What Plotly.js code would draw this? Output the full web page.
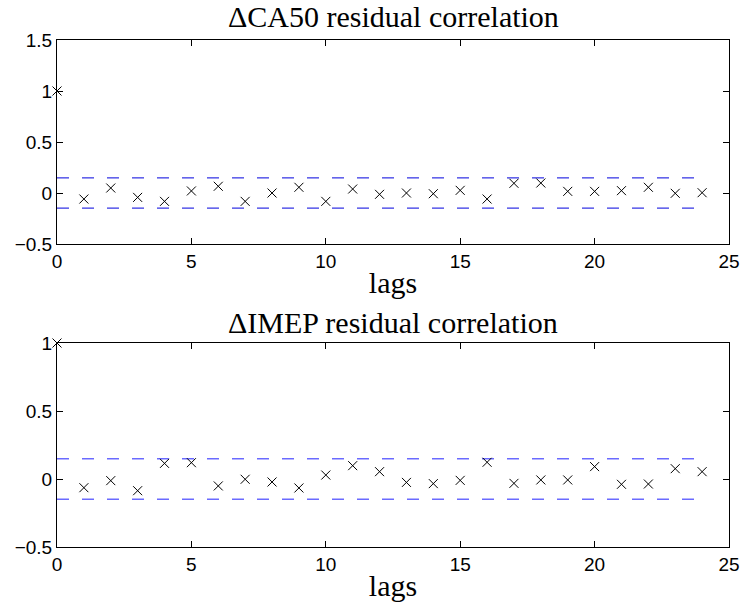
<!DOCTYPE html>
<html>
<head>
<meta charset="utf-8">
<script src="https://cdn.plot.ly/plotly-3.0.1.min.js"></script>
<style>html,body{margin:0;padding:0;background:#fff;}#chart{width:742px;height:610px;}</style>
</head>
<body>
<div id="chart"></div>
<script>
// Data
const lags = [0,1,2,3,4,5,6,7,8,9,10,11,12,13,14,15,16,17,18,19,20,21,22,23,24];
const ca50Corr = [1, -0.059, 0.049, -0.043, -0.082, 0.02, 0.066, -0.082, 0.0, 0.056, -0.082, 0.039, -0.013,
  0.0, -0.007, 0.026, -0.059, 0.095, 0.098, 0.016, 0.016, 0.023, 0.056, -0.003, 0.003];
const imepCorr = [1, -0.064, -0.012, -0.086, 0.115, 0.12, -0.051, -0.002, -0.022, -0.066, 0.029, 0.098, 0.054,
  -0.025, -0.034, -0.01, 0.123, -0.032, -0.007, -0.007, 0.091, -0.039, -0.037, 0.076, 0.054];
const confBound = 0.148;
const boundX = [0, 24];
const titles = ['\u0394CA50 residual correlation', '\u0394IMEP residual correlation'];
const xLabel = 'lags';
const xTicks = [0,5,10,15,20,25];

const serif = 'Liberation Serif, Times New Roman, serif';
const sans = 'Liberation Sans, Arial, Helvetica, sans-serif';

function markers(y, xa, ya) {
  return {x: lags, y: y, xaxis: xa, yaxis: ya, type: 'scatter', mode: 'markers', cliponaxis: false,
    marker: {symbol: 'x-thin-open', size: 9, color: 'black', line: {width: 1, color: 'black'}},
    hoverinfo: 'x+y', showlegend: false};
}
function bound(sign, xa, ya, color, w) {
  return {x: boundX, y: [sign*confBound, sign*confBound], xaxis: xa, yaxis: ya, type: 'scatter', mode: 'lines',
    line: {color: color, width: w, dash: '12px,13px'}, hoverinfo: 'skip', showlegend: false};
}

const data = [
  bound(1, 'x', 'y', '#0000dd', 1), bound(-1, 'x', 'y', '#0000dd', 1), markers(ca50Corr, 'x', 'y'),
  bound(1, 'x2', 'y2', '#6a6aff', 1.5), bound(-1, 'x2', 'y2', '#6a6aff', 1.5), markers(imepCorr, 'x2', 'y2')
];

function xaxis(anchor) {
  return {anchor: anchor, domain: [0, 1], range: [0, 25], tickvals: xTicks, ticks: 'inside', ticklen: 6,
    tickcolor: 'black', showline: true, linecolor: 'black', linewidth: 1, mirror: 'ticks', showgrid: false,
    zeroline: false, tickfont: {family: sans, size: 19, color: 'black'},
    title: {text: xLabel, font: {family: serif, size: 30, color: 'black'}, standoff: 1}};
}
function yaxis(anchor, domain, range, tv) {
  return {anchor: anchor, domain: domain, range: range, tickvals: tv, ticktext: tv.map(v => v < 0 ? '\u2212' + Math.abs(v) : String(v)),
    ticks: 'inside', ticklen: 6, tickcolor: 'black', showline: true, linecolor: 'black', linewidth: 1,
    mirror: 'ticks', showgrid: false, zeroline: false, tickfont: {family: sans, size: 19, color: 'black'}};
}

const layout = {
  width: 742, height: 610,
  margin: {l: 57, r: 13, t: 0, b: 0},
  paper_bgcolor: 'white', plot_bgcolor: 'white',
  xaxis: xaxis('y'),
  yaxis: yaxis('x', [1-244/610, 1-40/610], [-0.5, 1.5], [-0.5, 0, 0.5, 1, 1.5]),
  xaxis2: xaxis('y2'),
  yaxis2: yaxis('x2', [1-547/610, 1-343/610], [-0.5, 1], [-0.5, 0, 0.5, 1]),
  annotations: [
    {text: titles[0], xref: 'paper', yref: 'paper', x: 0.5, y: 1-16/610, xanchor: 'center', yanchor: 'middle',
      showarrow: false, font: {family: serif, size: 30, color: 'black'}},
    {text: titles[1], xref: 'paper', yref: 'paper', x: 0.5, y: 1-322/610, xanchor: 'center', yanchor: 'middle',
      showarrow: false, font: {family: serif, size: 30, color: 'black'}}
  ],
  showlegend: false
};

Plotly.newPlot('chart', data, layout, {displayModeBar: false, staticPlot: true});
</script>
</body>
</html>
